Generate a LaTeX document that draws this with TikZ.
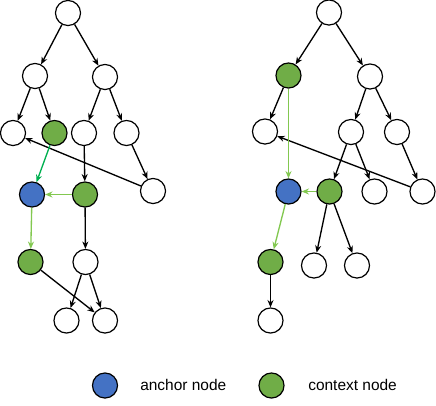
\documentclass[tikz,border=0pt]{standalone}
\usepackage{fontspec}
\setmainfont{Liberation Sans}
\usetikzlibrary{arrows.meta}
\definecolor{anchorblue}{HTML}{4472C4}
\definecolor{ctxgreen}{HTML}{70AD47}
\definecolor{darkarr}{HTML}{00B050}
\definecolor{lightarr}{RGB}{130,200,80}
\begin{document}
\begin{tikzpicture}[x=0.75pt,y=-0.75pt,
  nd/.style={circle,draw=black,line width=0.9pt,fill=white,minimum size=18.8pt,inner sep=0pt},
  anc/.style={nd,fill=anchorblue},
  ctx/.style={nd,fill=ctxgreen},
  arr/.style={-{Stealth[length=5.5pt,width=4.5pt]},line width=1pt},
  garr/.style={arr,draw=darkarr},
  larr/.style={arr,draw=lightarr},
  lab/.style={font=\fontsize{11.6pt}{13pt}\selectfont,anchor=west,inner sep=0pt}]
\useasboundingbox (0,0) rectangle (436,405);
% ---- left tree ----
\node[nd] (Lr) at (68,13) {};
\node[nd] (La) at (35,76) {};
\node[nd] (Lb) at (105,77) {};
\node[nd] (Laa) at (13,133) {};
\node[ctx] (Lab) at (54.5,133) {};
\node[nd] (Lba) at (84,133) {};
\node[nd] (Lbb) at (126.5,133) {};
\node[anc] (Lanc) at (32,194.5) {};
\node[ctx] (Lg) at (85,194.5) {};
\node[nd] (Lw) at (153,191) {};
\node[ctx] (Lg2) at (30.5,262) {};
\node[nd] (Lm) at (85.5,262) {};
\node[nd] (Lb1) at (66.5,320.5) {};
\node[nd] (Lb2) at (105,320.5) {};
\draw[arr] (Lr) -- (La);
\draw[arr] (Lr) -- (Lb);
\draw[arr] (La) -- (Laa);
\draw[arr] (La) -- (Lab);
\draw[arr] (Lb) -- (Lba);
\draw[arr] (Lb) -- (Lbb);
\draw[arr] (Lba) -- (Lg);
\draw[arr] (Lbb) -- (Lw);
\draw[arr] (Lw) -- (Laa);
\draw[garr] (Lab) -- (Lanc);
\draw[larr] (Lg) -- (Lanc);
\draw[larr] (Lanc) -- (Lg2);
\draw[arr] (Lg) -- (Lm);
\draw[arr] (Lm) -- (Lb1);
\draw[arr] (Lm) -- (Lb2);
\draw[arr] (Lg2) -- (Lb2);
% ---- right tree ----
\node[nd] (Rr) at (329,12.5) {};
\node[ctx] (Ra) at (288.5,75.5) {};
\node[nd] (Rb) at (370,76.5) {};
\node[nd] (Raa) at (265,131.5) {};
\node[nd] (Rba) at (351,132) {};
\node[nd] (Rbb) at (397,132) {};
\node[anc] (Ranc) at (288.5,191.5) {};
\node[ctx] (Rg) at (329.5,191.5) {};
\node[nd] (Rw) at (374.5,191.5) {};
\node[nd] (Rf) at (422.5,191.5) {};
\node[ctx] (Rg2) at (270.5,262) {};
\node[nd] (Rc1) at (314,265.5) {};
\node[nd] (Rc2) at (357,265.5) {};
\node[nd] (Rbot) at (270.5,320.5) {};
\draw[arr] (Rr) -- (Ra);
\draw[arr] (Rr) -- (Rb);
\draw[arr] (Ra) -- (Raa);
\draw[arr] (Rb) -- (Rba);
\draw[arr] (Rb) -- (Rbb);
\draw[arr] (Rba) -- (Rg);
\draw[arr] (Rba) -- (Rw);
\draw[arr] (Rbb) -- (Rf);
\draw[arr] (Rf) -- (Raa);
\draw[larr] (Ra) -- (Ranc);
\draw[larr] (Rg) -- (Ranc);
\draw[larr] (Ranc) -- (Rg2);
\draw[arr] (Rg) -- (Rc1);
\draw[arr] (Rg) -- (Rc2);
\draw[arr] (Rg2) -- (Rbot);
% ---- legend ----
\node[anc] (legA) at (105,385.5) {};
\node[lab] (legAt) at (140,385) {anchor node};
\node[ctx] (legC) at (271.5,385.5) {};
\node[lab] (legCt) at (308,385) {context node};
\end{tikzpicture}
\end{document}
